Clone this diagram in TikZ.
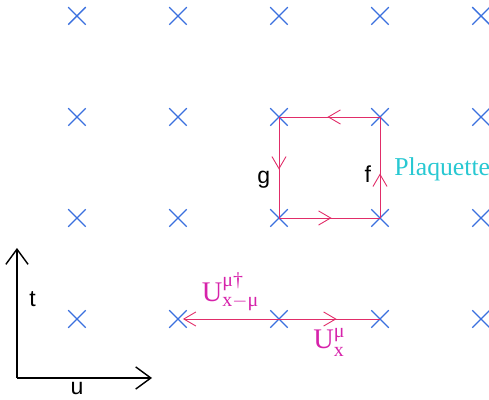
\documentclass[tikz,border=0pt]{standalone}
\usepackage{amsmath}
\usepackage{fontspec}
\setmainfont{Liberation Serif}
\newfontfamily\labsans{Liberation Sans}
\usetikzlibrary{shapes.misc,arrows.meta,decorations.markings}
\definecolor{sitecol}{RGB}{58,112,222}
\definecolor{linkcol}{RGB}{225,45,105}
\definecolor{ucol}{RGB}{214,34,170}
\definecolor{plaqcol}{RGB}{40,200,210}

\begin{document}
\begin{tikzpicture}[x=2cm,y=2cm,
  site/.style={draw=sitecol,cross out,line width=0.75pt,minimum size=0.32cm,inner sep=0pt},
  link/.style={draw=linkcol,line width=0.5pt},
  barb/.style={-{Straight Barb[length=2.4mm,width=2.8mm]}},
  midarr/.style={postaction={decorate},decoration={markings,
    mark=at position #1 with {\arrow{Straight Barb[length=2.4mm,width=2.8mm]}}}},
  axis/.style={line width=0.8pt,-{Straight Barb[length=3mm,width=4.4mm]}},
  sanslab/.style={font=\labsans\fontsize{13}{15}\selectfont},
  ulab/.style={text=ucol,font=\fontsize{16}{18}\selectfont}]
  \useasboundingbox (-0.762,-0.792) rectangle (4.079,3.158);
  % lattice sites
  \foreach \i in {0,...,4}
    \foreach \j in {0,...,3}
      \node[site] (p-\i-\j) at (\i,\j) {};
  % plaquette
  \draw[link,midarr=0.52] (p-3-2.center) -- (p-2-2.center);
  \draw[link,midarr=0.52] (p-2-2.center) -- (p-2-1.center);
  \draw[link,midarr=0.52] (p-2-1.center) -- (p-3-1.center);
  \draw[link,midarr=0.44] (p-3-1.center) -- (p-3-2.center);
  \node[sanslab] (g) at (1.85,1.38) {g};
  \node[sanslab] (f) at (2.88,1.43) {f};
  \node[anchor=west,text=plaqcol,font=\fontsize{14.5}{16}\selectfont] (plaq) at (3.08,1.48) {Plaquette};
  % links along x
  \draw[link,barb,shorten >=2.8pt] (p-2-0.center) -- (p-1-0.center);
  \draw[link,midarr=0.57] (p-2-0.center) -- (p-3-0.center);
  \node[ulab] (udag) at (1.52,0.27) {$\mathrm{U}^{\text{μ}\text{†}}_{\text{x}-\text{μ}}$};
  \node[ulab] (ux) at (2.5,-0.23) {$\mathrm{U}^{\text{μ}}_{\text{x}}$};
  % axes
  \coordinate (o) at (-0.594,-0.584);
  \coordinate (tend) at (-0.594,0.703);
  \coordinate (uend) at (0.743,-0.584);
  \draw[axis] (o) -- (tend);
  \draw[axis] (o) -- (uend);
  \node[sanslab] (tlab) at (-0.44,0.2) {t};
  \node[sanslab] (ulab) at (0,-0.69) {u};
\end{tikzpicture}
\end{document}
